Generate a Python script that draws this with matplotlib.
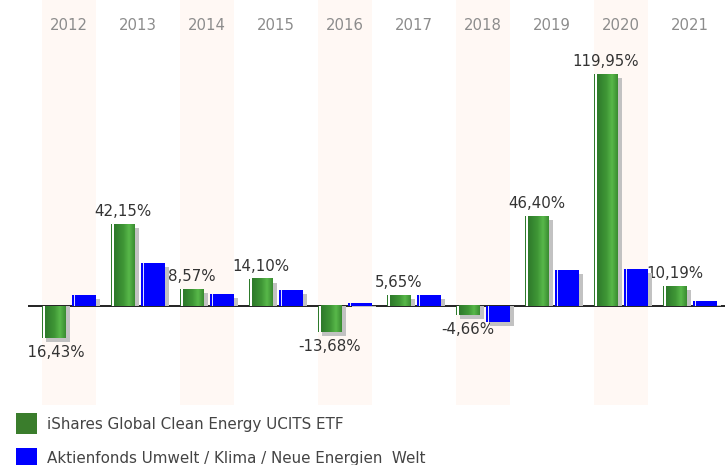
import numpy as np
import matplotlib
matplotlib.use("Agg")
import matplotlib.pyplot as plt
from matplotlib.patches import Rectangle
from matplotlib.colors import LinearSegmentedColormap

years = ["2012", "2013", "2014", "2015", "2016", "2017", "2018", "2019", "2020", "2021"]
etf = [-16.43, 42.15, 8.57, 14.10, -13.68, 5.65, -4.66, 46.40, 119.95, 10.19]
fonds = [5.7, 22.2, 6.2, 8.3, 1.5, 5.7, -8.3, 18.6, 19.1, 2.6]
etf_name = "iShares Global Clean Energy UCITS ETF"
fonds_name = "Aktienfonds Umwelt / Klima / Neue Energien  Welt"

W, H = 725, 465
fig = plt.figure(figsize=(W / 100, H / 100), dpi=100)
ax_l, ax_r, ax_t, ax_b = 28, 725, 0, 405
ax = fig.add_axes([ax_l / W, (H - ax_b) / H, (ax_r - ax_l) / W, (ax_b - ax_t) / H])

cat_px = 69.0
px_x = 1 / cat_px
x_first = 69.0
ypx = 1.934  # px per percent
zero_px = 306
px_y = 1 / ypx
ax.axis("off")

FONT = "DejaVu Sans"
x = np.arange(len(years))

# alternating shading and year labels
for i in x:
    if i % 2 == 0:
        ax.axvspan(i - 27 * px_x, i + 27 * px_x, color="#fff8f4", zorder=0, lw=0)
    ax.text(i, 1 - 30 / 405, years[i], transform=ax.get_xaxis_transform(),
            ha="center", va="baseline", fontsize=10.7, color="#8c8c8c", family=FONT)

ax.axhline(0, color="#111111", lw=1.3, zorder=2)

bw = 24 * px_x
g_off = -27 * px_x
b_off = 3 * px_x
sdx = 4 * px_x
sdy = 4 * px_y

green_cmap = LinearSegmentedColormap.from_list(
    "g", [(0, "#2e7a2b"), (0.45, "#3f9636"), (0.72, "#58b84a"), (1.0, "#3a8c31")])
grad = np.linspace(0, 1, 64).reshape(1, -1)

for i in x:
    # shadows
    for off, v in ((g_off, etf[i]), (b_off, fonds[i])):
        ax.add_patch(Rectangle((i + off + sdx, 0), bw, v - sdy, color="#c2c2c2", lw=0, zorder=3))
    # green bar
    gx = i + g_off
    v = etf[i]
    ax.add_patch(Rectangle((gx, 0), 1 * px_x, v, color="#2e7a2b", lw=0, zorder=4))
    ax.add_patch(Rectangle((gx + 1 * px_x, 0), 2 * px_x, v, color="#ffffff", lw=0, zorder=4))
    ax.imshow(grad, cmap=green_cmap, aspect="auto", interpolation="bilinear",
              extent=[gx + 3 * px_x, gx + bw, 0, v], zorder=4)
    # blue bar
    bx = i + b_off
    vb = fonds[i]
    ax.add_patch(Rectangle((bx, 0), bw, vb, color="#0000ff", lw=0, zorder=4))
    ax.add_patch(Rectangle((bx + 1.5 * px_x, 0), 1.5 * px_x, vb, color="#dde0ff", lw=0, zorder=4))
    # value label
    lab = f"{v:.2f}".replace(".", ",") + "%"
    cx = gx + bw / 2
    if v >= 0:
        ax.text(cx, v + 8 * px_y, lab, ha="center", va="baseline", fontsize=10.8,
                color="#333333", family=FONT, zorder=1, clip_on=True)
    else:
        ax.text(cx, v - 7 * px_y, lab, ha="center", va="top", fontsize=10.8,
                color="#333333", family=FONT, zorder=1, clip_on=True)

ax.set_xlim((ax_l - x_first) / cat_px, (ax_r - x_first) / cat_px)
ax.set_ylim(-(ax_b - zero_px) / ypx, (zero_px - ax_t) / ypx)

# legend
def fy(y):
    return 1 - y / H

fig.add_artist(Rectangle((16 / W, fy(434)), 21 / W, 21 / H, transform=fig.transFigure,
                         color="#3a7d2c", lw=0))
fig.text(47 / W, fy(429), etf_name, ha="left", va="baseline", fontsize=10.9,
         color="#444444", family=FONT)
fig.add_artist(Rectangle((16 / W, fy(469)), 21 / W, 21 / H, transform=fig.transFigure,
                         color="#0000ff", lw=0))
fig.text(47 / W, fy(463), fonds_name, ha="left", va="baseline", fontsize=10.9,
         color="#444444", family=FONT)

fig.savefig("out.png", dpi=100)
